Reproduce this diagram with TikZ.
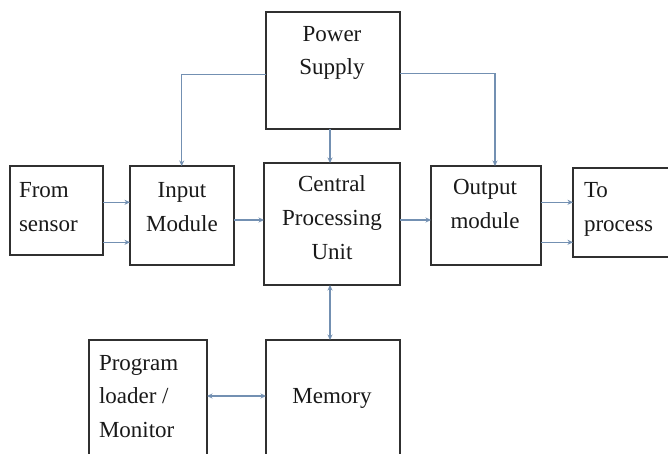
\documentclass[tikz,border=0pt]{standalone}
\usepackage{fontspec}
\setmainfont{Liberation Serif}
\usetikzlibrary{arrows.meta}
\definecolor{boxline}{HTML}{303030}
\definecolor{conn}{HTML}{7390B2}
\begin{document}
\begin{tikzpicture}[x=1pt,y=-1pt,
  blk/.style={draw=boxline,line width=1.1pt,fill=white,inner sep=0pt,outer sep=0pt},
  txt/.style={inner sep=0pt,outer sep=0pt,font=\fontsize{23}{34}\selectfont,text=black!90},
  wire/.style={draw=conn,line width=1.2pt,-{Stealth[length=5.5pt,width=5pt]}},
  dwire/.style={draw=conn,line width=1.2pt,{Stealth[length=5.5pt,width=5pt]}-{Stealth[length=5.5pt,width=5pt]}}]
\useasboundingbox (0,0) rectangle (668,454);
\clip (0,0) rectangle (668,454);
\fill[white] (0,0) rectangle (668,454);
% boxes
\node[blk,minimum width=134pt,minimum height=117pt] (ps) at (333,70.5) {};
\node[blk,minimum width=93pt,minimum height=89pt] (sensor) at (56.5,210.5) {};
\node[blk,minimum width=104pt,minimum height=99pt] (input) at (182,215.5) {};
\node[blk,minimum width=136pt,minimum height=122pt] (cpu) at (332,224) {};
\node[blk,minimum width=110pt,minimum height=99pt] (output) at (486,215.5) {};
\node[blk,minimum width=107pt,minimum height=89pt] (toproc) at (626.5,212.5) {};
\node[blk,minimum width=118pt,minimum height=130pt] (prog) at (148,405) {};
\node[blk,minimum width=134pt,minimum height=130pt] (mem) at (333,405) {};
% texts
\node[txt,anchor=base] (ps1) at (332,41.7) {Power};
\node[txt,anchor=base] (ps2) at (332,74.5) {Supply};
\node[txt,anchor=base west] (se1) at (19,197) {From};
\node[txt,anchor=base west] (se2) at (19,231) {sensor};
\node[txt,anchor=base] (in1) at (182,197) {Input};
\node[txt,anchor=base] (in2) at (182,231) {Module};
\node[txt,anchor=base] (cp1) at (332,191.7) {Central};
\node[txt,anchor=base] (cp2) at (332,225.5) {Processing};
\node[txt,anchor=base] (cp3) at (332,259.5) {Unit};
\node[txt,anchor=base] (ou1) at (485,195) {Output};
\node[txt,anchor=base] (ou2) at (485,228.5) {module};
\node[txt,anchor=base west] (tp1) at (584,197) {To};
\node[txt,anchor=base west] (tp2) at (584,231) {process};
\node[txt,anchor=base west] (pr1) at (99,370) {Program};
\node[txt,anchor=base west] (pr2) at (99,403.5) {loader /};
\node[txt,anchor=base west] (pr3) at (99,437) {Monitor};
\node[txt,anchor=base] (me1) at (332,403) {Memory};
% connectors
\draw[wire] (ps.west |- 0,74.7) -| (input.north -| 181.7,0);
\draw[wire] (ps.east |- 0,73.5) -| (output.north -| 495,0);
\draw[wire] (ps.south -| 330,0) -- (cpu.north -| 330,0);
\draw[dwire] (cpu.south -| 330,0) -- (mem.north -| 330,0);
\draw[wire] (sensor.east |- 0,202.3) -- (input.west |- 0,202.3);
\draw[wire] (sensor.east |- 0,242.3) -- (input.west |- 0,242.3);
\draw[wire] (input.east |- 0,220) -- (cpu.west |- 0,220);
\draw[wire] (cpu.east |- 0,220) -- (output.west |- 0,220);
\draw[wire] (output.east |- 0,202.3) -- (toproc.west |- 0,202.3);
\draw[wire] (output.east |- 0,242.3) -- (toproc.west |- 0,242.3);
\draw[dwire] (mem.west |- 0,396) -- (prog.east |- 0,396);
\end{tikzpicture}
\end{document}
